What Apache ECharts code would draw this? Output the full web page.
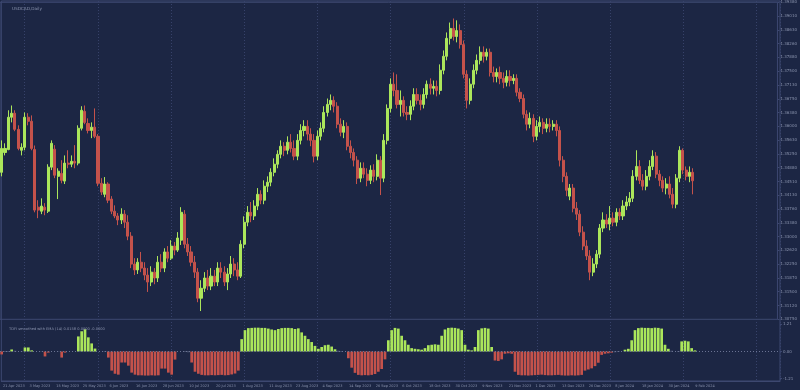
<!DOCTYPE html>
<html><head><meta charset="utf-8">
<script src="https://cdn.jsdelivr.net/npm/echarts@6/dist/echarts.min.js"></script>
<style>html,body{margin:0;padding:0;background:#1c2644;}#c{width:800px;height:390px;}</style>
</head><body><div id="c"></div>
<script>
const symbolTitle = 'USDCAD,Daily';
const indicatorTitle = 'TDFI smoothed with EMA (14) 0.0158 0.0000 -0.0000';
const startDate = [2023, 3, 21];
const barCount = 209;
const padCount = 25;
const holidays = ['2023-12-25', '2024-01-01'];
const monthNames = ['Jan','Feb','Mar','Apr','May','Jun','Jul','Aug','Sep','Oct','Nov','Dec'];

const opens = [
1.3475,1.3529,1.3537,1.3625,1.3636,1.3592,1.3535,1.3543,1.3625,1.3614,
1.3537,1.3380,1.3369,1.3380,1.3369,1.3489,1.3538,1.3464,1.3472,1.3451,
1.3500,1.3497,1.3505,1.3500,1.3595,1.3641,1.3608,1.3589,1.3598,1.3573,
1.3445,1.3415,1.3443,1.3402,1.3369,1.3356,1.3345,1.3361,1.3339,1.3301,
1.3225,1.3209,1.3230,1.3214,1.3195,1.3176,1.3203,1.3187,1.3230,1.3214,
1.3258,1.3241,1.3274,1.3263,1.3290,1.3361,1.3279,1.3258,1.3230,1.3203,
1.3132,1.3159,1.3187,1.3165,1.3192,1.3176,1.3214,1.3203,1.3176,1.3198,
1.3225,1.3209,1.3192,1.3279,1.3339,1.3366,1.3356,1.3383,1.3415,1.3399,
1.3437,1.3448,1.3475,1.3497,1.3524,1.3546,1.3535,1.3557,1.3540,1.3519,
1.3562,1.3589,1.3600,1.3579,1.3562,1.3519,1.3573,1.3595,1.3638,1.3660,
1.3671,1.3655,1.3606,1.3584,1.3600,1.3546,1.3529,1.3508,1.3459,1.3486,
1.3470,1.3453,1.3481,1.3464,1.3508,1.3459,1.3562,1.3649,1.3715,1.3698,
1.3660,1.3671,1.3638,1.3633,1.3655,1.3687,1.3671,1.3660,1.3687,1.3715,
1.3704,1.3709,1.3698,1.3753,1.3791,1.3840,1.3867,1.3845,1.3861,1.3823,
1.3742,1.3671,1.3715,1.3753,1.3780,1.3802,1.3791,1.3802,1.3747,1.3736,
1.3747,1.3731,1.3720,1.3736,1.3725,1.3731,1.3693,1.3676,1.3633,1.3606,
1.3622,1.3573,1.3600,1.3611,1.3595,1.3606,1.3600,1.3606,1.3589,1.3508,
1.3464,1.3410,1.3432,1.3377,1.3361,1.3312,1.3274,1.3247,1.3203,1.3225,
1.3252,1.3323,1.3345,1.3334,1.3350,1.3339,1.3366,1.3356,1.3383,1.3394,
1.3404,1.3464,1.3491,1.3453,1.3437,1.3464,1.3491,1.3519,1.3470,1.3453,
1.3432,1.3443,1.3415,1.3388,1.3459,1.3535,1.3481,1.3464,1.3475];

const closes = [
1.3540,1.3540,1.3625,1.3636,1.3592,1.3540,1.3543,1.3625,1.3614,1.3540,
1.3372,1.3372,1.3383,1.3372,1.3489,1.3554,1.3467,1.3478,1.3453,1.3500,
1.3497,1.3505,1.3500,1.3595,1.3644,1.3611,1.3589,1.3598,1.3573,1.3445,
1.3421,1.3443,1.3399,1.3369,1.3356,1.3345,1.3361,1.3339,1.3301,1.3225,
1.3209,1.3230,1.3214,1.3195,1.3176,1.3203,1.3187,1.3230,1.3214,1.3258,
1.3241,1.3274,1.3263,1.3296,1.3366,1.3279,1.3258,1.3230,1.3203,1.3132,
1.3159,1.3187,1.3165,1.3192,1.3176,1.3214,1.3203,1.3176,1.3198,1.3225,
1.3209,1.3192,1.3279,1.3339,1.3366,1.3356,1.3383,1.3415,1.3399,1.3437,
1.3448,1.3475,1.3497,1.3524,1.3546,1.3535,1.3557,1.3540,1.3519,1.3562,
1.3589,1.3600,1.3579,1.3562,1.3519,1.3573,1.3595,1.3638,1.3660,1.3671,
1.3655,1.3606,1.3584,1.3600,1.3546,1.3529,1.3508,1.3459,1.3486,1.3470,
1.3453,1.3481,1.3464,1.3508,1.3459,1.3562,1.3649,1.3715,1.3698,1.3660,
1.3671,1.3638,1.3633,1.3655,1.3687,1.3671,1.3660,1.3687,1.3715,1.3704,
1.3709,1.3698,1.3753,1.3791,1.3840,1.3867,1.3845,1.3861,1.3823,1.3742,
1.3671,1.3715,1.3753,1.3780,1.3802,1.3791,1.3802,1.3747,1.3736,1.3747,
1.3731,1.3720,1.3736,1.3725,1.3731,1.3693,1.3676,1.3633,1.3606,1.3622,
1.3573,1.3600,1.3611,1.3595,1.3606,1.3600,1.3606,1.3589,1.3508,1.3464,
1.3426,1.3432,1.3377,1.3361,1.3312,1.3274,1.3247,1.3203,1.3225,1.3252,
1.3323,1.3345,1.3334,1.3350,1.3339,1.3366,1.3356,1.3383,1.3394,1.3404,
1.3464,1.3491,1.3453,1.3437,1.3464,1.3491,1.3519,1.3470,1.3453,1.3432,
1.3443,1.3415,1.3388,1.3459,1.3535,1.3481,1.3464,1.3475,1.34519];

const highs = [
1.3562,1.3554,1.3644,1.3657,1.3644,1.3603,1.3554,1.3638,1.3636,1.3630,
1.3548,1.3399,1.3404,1.3391,1.3497,1.3562,1.3549,1.3486,1.3508,1.3521,
1.3535,1.3521,1.3549,1.3603,1.3655,1.3657,1.3622,1.3611,1.3649,1.3579,
1.3459,1.3462,1.3448,1.3410,1.3385,1.3364,1.3377,1.3372,1.3358,1.3312,
1.3241,1.3241,1.3258,1.3230,1.3214,1.3219,1.3214,1.3247,1.3252,1.3268,
1.3274,1.3290,1.3285,1.3312,1.3380,1.3372,1.3296,1.3274,1.3247,1.3214,
1.3181,1.3203,1.3209,1.3214,1.3209,1.3230,1.3230,1.3219,1.3214,1.3247,
1.3241,1.3230,1.3290,1.3355,1.3383,1.3394,1.3399,1.3432,1.3426,1.3453,
1.3464,1.3486,1.3513,1.3535,1.3562,1.3557,1.3573,1.3579,1.3562,1.3579,
1.3606,1.3617,1.3617,1.3595,1.3579,1.3589,1.3611,1.3655,1.3676,1.3687,
1.3682,1.3666,1.3622,1.3617,1.3611,1.3562,1.3540,1.3519,1.3502,1.3502,
1.3486,1.3494,1.3497,1.3524,1.3519,1.3579,1.3660,1.3731,1.3747,1.3742,
1.3698,1.3682,1.3655,1.3671,1.3704,1.3704,1.3687,1.3704,1.3725,1.3731,
1.3725,1.3725,1.3769,1.3807,1.3856,1.3883,1.3894,1.3889,1.3878,1.3834,
1.3753,1.3731,1.3769,1.3796,1.3818,1.3818,1.3812,1.3812,1.3763,1.3758,
1.3763,1.3747,1.3753,1.3753,1.3742,1.3742,1.3704,1.3687,1.3644,1.3638,
1.3633,1.3617,1.3627,1.3622,1.3622,1.3622,1.3617,1.3617,1.3600,1.3519,
1.3475,1.3443,1.3443,1.3394,1.3372,1.3328,1.3290,1.3263,1.3241,1.3263,
1.3334,1.3366,1.3361,1.3383,1.3366,1.3377,1.3377,1.3399,1.3410,1.3421,
1.3481,1.3535,1.3508,1.3470,1.3481,1.3508,1.3535,1.3530,1.3481,1.3464,
1.3459,1.3464,1.3432,1.3470,1.3546,1.3540,1.3491,1.3491,1.3486];

const lows = [
1.3464,1.3521,1.3535,1.3611,1.3587,1.3535,1.3521,1.3535,1.3603,1.3535,
1.3366,1.3350,1.3361,1.3358,1.3364,1.3481,1.3459,1.3402,1.3445,1.3443,
1.3486,1.3489,1.3486,1.3494,1.3589,1.3606,1.3581,1.3568,1.3568,1.3437,
1.3413,1.3407,1.3391,1.3361,1.3350,1.3331,1.3334,1.3323,1.3290,1.3214,
1.3195,1.3198,1.3203,1.3181,1.3149,1.3165,1.3170,1.3176,1.3203,1.3203,
1.3230,1.3236,1.3249,1.3258,1.3277,1.3268,1.3247,1.3219,1.3187,1.3121,
1.3097,1.3149,1.3154,1.3154,1.3165,1.3165,1.3187,1.3165,1.3154,1.3187,
1.3192,1.3181,1.3187,1.3268,1.3328,1.3339,1.3345,1.3372,1.3388,1.3388,
1.3421,1.3437,1.3464,1.3486,1.3513,1.3519,1.3524,1.3529,1.3508,1.3508,
1.3551,1.3573,1.3562,1.3546,1.3502,1.3508,1.3562,1.3584,1.3627,1.3644,
1.3638,1.3595,1.3573,1.3568,1.3535,1.3513,1.3491,1.3443,1.3448,1.3459,
1.3437,1.3443,1.3448,1.3453,1.3413,1.3448,1.3551,1.3638,1.3682,1.3649,
1.3627,1.3627,1.3617,1.3617,1.3644,1.3660,1.3644,1.3649,1.3676,1.3687,
1.3687,1.3682,1.3687,1.3742,1.3780,1.3823,1.3834,1.3829,1.3812,1.3731,
1.3649,1.3660,1.3704,1.3742,1.3769,1.3774,1.3780,1.3736,1.3720,1.3720,
1.3715,1.3704,1.3709,1.3709,1.3715,1.3682,1.3666,1.3622,1.3589,1.3595,
1.3557,1.3562,1.3584,1.3579,1.3584,1.3584,1.3589,1.3573,1.3491,1.3448,
1.3410,1.3399,1.3366,1.3345,1.3301,1.3263,1.3236,1.3181,1.3192,1.3214,
1.3241,1.3312,1.3323,1.3317,1.3328,1.3328,1.3345,1.3345,1.3372,1.3383,
1.3394,1.3453,1.3443,1.3426,1.3426,1.3453,1.3481,1.3459,1.3437,1.3421,
1.3415,1.3404,1.3377,1.3377,1.3448,1.3470,1.3453,1.3448,1.3415];

const tdfi = [
-0.13,-0.02,0.02,0.09,0.03,0.0,0.01,0.18,0.18,0.05,
0.0,0.0,-0.01,-0.22,-0.05,0.0,0.0,0.01,-0.27,-0.05,
0.0,0.0,0.0,0.67,0.9,0.99,0.63,0.36,0.13,0.0,
0.0,-0.02,-0.27,-0.85,-0.99,-1.03,-0.49,-0.49,-0.63,-0.94,
-1.03,-1.06,-1.06,-1.07,-1.07,-1.06,-1.07,-1.06,-0.76,-0.76,
-0.94,-1.03,-0.36,0.0,0.0,-0.02,-0.03,-0.49,-0.9,-0.99,
-1.04,-1.06,-1.06,-1.05,-1.06,-1.05,-1.04,-1.06,-1.05,-1.02,
-0.98,-0.85,0.55,0.95,1.04,1.05,1.06,1.06,1.05,1.05,
1.02,0.98,0.95,1.0,1.04,1.05,1.05,1.04,1.0,1.03,
0.85,0.7,0.55,0.42,0.25,0.12,0.2,0.28,0.3,0.22,
0.1,0.03,-0.02,0.0,-0.3,-0.72,-0.95,-1.04,-1.06,-1.05,
-1.06,-1.04,-1.0,-0.9,-0.78,-0.35,0.5,0.95,1.05,1.02,
0.7,0.5,0.3,0.15,0.12,0.1,0.08,0.15,0.28,0.3,
0.32,0.3,0.7,0.98,1.05,1.06,1.05,1.02,0.95,0.3,
0.08,0.05,0.2,0.95,1.03,1.05,1.02,0.2,-0.4,-0.42,
-0.35,-0.1,-0.08,-0.1,-0.9,-1.04,-1.06,-1.06,-1.07,-1.06,
-1.05,-1.04,-1.03,-1.05,-1.06,-1.06,-1.05,-1.04,-1.06,-1.07,
-1.07,-1.06,-1.07,-1.06,-1.04,-0.85,-0.8,-0.75,-0.65,-0.5,
-0.15,-0.1,-0.08,-0.05,-0.03,-0.02,0.0,0.08,0.12,0.5,
0.95,1.04,1.06,1.05,1.05,1.04,1.06,1.05,1.02,0.3,
0.12,0.03,0.0,0.02,0.45,0.48,0.45,0.15,0.05];

const priceTickLabels = ['1.30750','1.31120','1.31500','1.31870','1.32250','1.32620','1.33000','1.33380','1.33760','1.34130','1.34510','1.34880','1.35250','1.35630','1.36000','1.36380','1.36750','1.37130','1.37500','1.37880','1.38260','1.38630','1.39010','1.39380'];
const priceAxisMin = 1.30745;
const priceAxisStep = 0.003755;
const tdfiAxisLimit = 1.21;

// calendar categories (trading weekdays)
const dates = [];
const d = new Date(Date.UTC(startDate[0], startDate[1], startDate[2]));
while (dates.length < barCount) {
  const wd = d.getUTCDay();
  const iso = d.toISOString().slice(0, 10);
  if (wd !== 0 && wd !== 6 && holidays.indexOf(iso) < 0) {
    dates.push(d.getUTCDate() + ' ' + monthNames[d.getUTCMonth()] + ' ' + d.getUTCFullYear());
  }
  d.setUTCDate(d.getUTCDate() + 1);
}
const categories = dates.slice();
for (let k = 0; k < padCount; k++) categories.push('pad' + k);

const UP = '#abe65b', DOWN = '#c4524b', FLAT = '#6d7591';
const TXT = '#8a93ae', LINE = '#3d4870', GRIDC = '#37426a';

const candleData = opens.map((o, i) => [o, closes[i], lows[i], highs[i]]);
const tdfiData = tdfi.map(v => ({ value: v, itemStyle: { color: Math.abs(v) < 0.05 ? FLAT : (v > 0 ? UP : DOWN) } }));

const chart = echarts.init(document.getElementById('c'), null, { renderer: 'canvas' });
const fontFam = 'DejaVu Sans';
chart.setOption({
  animation: false,
  backgroundColor: '#1c2644',
  textStyle: { fontFamily: fontFam },
  title: [
    { text: symbolTitle, left: 7, top: 1.5, textStyle: { fontSize: 4.2, color: TXT, fontWeight: 'normal', fontFamily: fontFam } },
    { text: indicatorTitle, left: 4, top: 322, textStyle: { fontSize: 3.6, color: TXT, fontWeight: 'normal', fontFamily: fontFam } }
  ],
  grid: [
    { left: 0, right: 20, top: 1, bottom: 9, show: true, borderColor: LINE, borderWidth: 1 },
    { left: 0, right: 20, top: 2.3, height: 317, show: true, borderColor: LINE, borderWidth: 1 },
    { left: 0, right: 20, top: 324.3, height: 54.4, show: false }
  ],
  xAxis: [
    { type: 'category', gridIndex: 0, data: categories, boundaryGap: true,
      axisLine: { show: true, lineStyle: { color: LINE } }, axisTick: { show: false },
      axisLabel: { show: true, fontSize: 3.5, color: TXT, align: 'left', margin: 3, fontFamily: fontFam,
        interval: (idx) => idx % 8 === 0 && idx < barCount },
      splitLine: { show: true, interval: (idx) => idx > 0 && (idx - 7) % 22 === 0,
        lineStyle: { color: GRIDC, type: [1, 2], width: 1 } } },
    { type: 'category', gridIndex: 1, data: categories, boundaryGap: true, show: false },
    { type: 'category', gridIndex: 2, data: categories, boundaryGap: true, show: false }
  ],
  yAxis: [
    { type: 'value', gridIndex: 0, show: false, min: 0, max: 1 },
    { type: 'value', gridIndex: 1, position: 'right', scale: true,
      min: priceAxisMin, max: priceAxisMin + 23 * priceAxisStep, interval: priceAxisStep,
      axisLine: { show: false }, axisTick: { show: true, length: 2, lineStyle: { color: LINE } },
      splitLine: { show: false },
      axisLabel: { fontSize: 4, color: TXT, margin: 3, fontFamily: fontFam,
        formatter: (v) => { const k = Math.round((v - priceAxisMin) / priceAxisStep); return priceTickLabels[k] || ''; } } },
    { type: 'value', gridIndex: 2, position: 'right',
      min: -tdfiAxisLimit, max: tdfiAxisLimit, interval: tdfiAxisLimit,
      axisLine: { show: false }, axisTick: { show: true, length: 2, lineStyle: { color: LINE } },
      splitLine: { show: false },
      axisLabel: { fontSize: 4, color: TXT, margin: 3, fontFamily: fontFam, formatter: (v) => v.toFixed(2) } }
  ],
  series: [
    { type: 'candlestick', xAxisIndex: 1, yAxisIndex: 1, data: candleData, barWidth: '78%', z: 3,
      itemStyle: { color: UP, color0: DOWN, borderColor: UP, borderColor0: DOWN, borderWidth: 1 },
      markLine: { symbol: 'none', silent: true, animation: false,
        lineStyle: { opacity: 0 },
        label: { show: true, position: 'end', distance: 0, fontSize: 4, color: '#e6e9f2',
          backgroundColor: '#5d6684', padding: [2, 2, 1, 2], fontFamily: fontFam,
          formatter: (p) => p.value.toFixed(5) },
        data: [{ yAxis: closes[closes.length - 1] }] } },
    { type: 'bar', xAxisIndex: 2, yAxisIndex: 2, data: tdfiData, barWidth: '80%', z: 3,
      markLine: { symbol: 'none', silent: true, animation: false, label: { show: false },
        lineStyle: { color: '#6a7393', type: [1, 2], width: 1 },
        data: [{ yAxis: 0 }] } }
  ]
});
</script></body></html>
